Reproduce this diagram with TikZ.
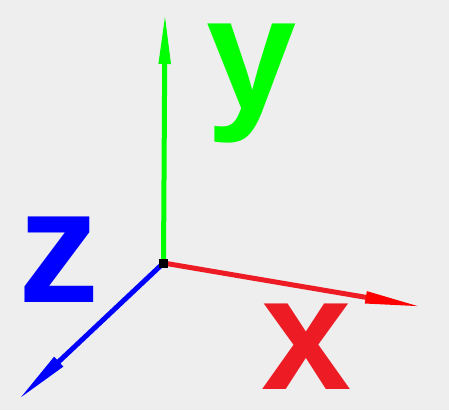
\documentclass[tikz,border=0pt]{standalone}
\usepackage{fontspec}
\setmainfont{Liberation Sans}
\usetikzlibrary{arrows.meta}
\definecolor{bgc}{HTML}{EEEEEE}
\definecolor{xline}{HTML}{ED1C24}
\definecolor{xhead}{HTML}{FF0000}
\definecolor{ycol}{HTML}{00FF00}
\definecolor{zcol}{HTML}{0000FF}
\tikzset{
  axis/.style={line width=5pt},
  lab/.style={inner sep=0pt, font=\fontsize{162}{162}\selectfont\bfseries},
  origin/.style={fill=black, inner sep=0pt, minimum size=9pt, rectangle}
}
\begin{document}
\begin{tikzpicture}[x=1pt,y=-1pt]
\fill[bgc] (0,0) rectangle (449,410);
\useasboundingbox (0,0) rectangle (449,410);
\coordinate (o) at (163.5,263);
\coordinate (ytip) at (165,12);
\coordinate (xtip) at (423,307);
\coordinate (ztip) at (18,400);
\draw[axis, ycol, -{Triangle[length=52pt,width=11pt,color=ycol]}] (o) -- (ytip);
\draw[axis, xline, -{Triangle[length=58pt,width=11pt,color=xhead]}] (o) -- (xtip);
\draw[axis, zcol, -{Triangle[length=56pt,width=12pt,color=zcol]}] (o) -- (ztip);
\node[origin] (on) at (o) {};
\node[lab, text=ycol] (ylab) at (251.5,84) {y};
\node[lab, text=zcol] (zlab) at (59,260) {z};
\node[lab, text=xline] (xlab) at (307,346.5) {x};
\end{tikzpicture}
\end{document}
